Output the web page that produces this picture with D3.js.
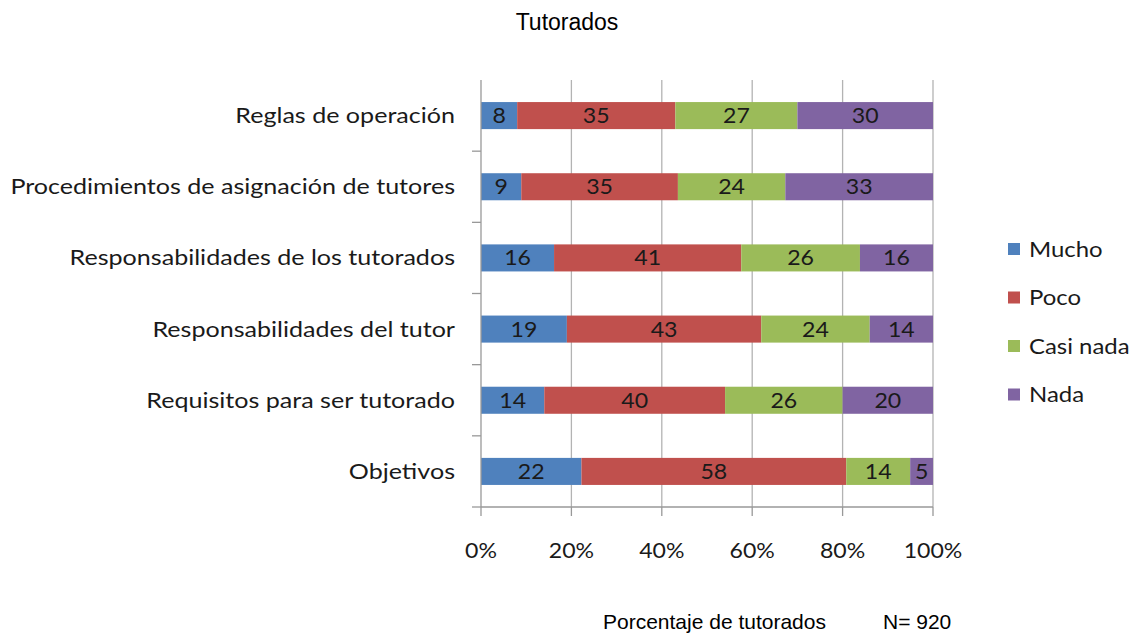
<!DOCTYPE html>
<html><head><meta charset="utf-8">
<script src="https://cdn.jsdelivr.net/npm/d3@7"></script>
<style>body{margin:0;background:#fff}</style>
</head><body>
<script>
const categories = ["Reglas de operación","Procedimientos de asignación de tutores","Responsabilidades de los tutorados","Responsabilidades del tutor","Requisitos para ser tutorado","Objetivos"];
const seriesNames = ["Mucho","Poco","Casi nada","Nada"];
const mucho = [8,9,16,19,14,22];
const poco = [35,35,41,43,40,58];
const casiNada = [27,24,26,24,26,14];
const nada = [30,33,16,14,20,5];
const colors = ["#4F81BD","#C0504D","#9BBB59","#8064A2"];
const xTicks = [0,0.2,0.4,0.6,0.8,1];

const W=1138,H=634;
const svg=d3.select("body").append("svg").attr("width",W).attr("height",H);
const font="Lato, 'Open Sans', sans-serif";
const arial="Arial, 'Liberation Sans', sans-serif";
const x=d3.scaleLinear().domain([0,1]).range([481,933]);
const y=d3.scaleBand().domain(categories).range([80,507]).paddingInner(0.62).paddingOuter(0.31);
const band=(507-80)/categories.length;
const SX=1.195, SXL=1.14, SXN=1.1;

function place(sel,fx,fy,sx){
  sel.attr("transform",(d,i)=>`translate(${fx(d,i)},${fy(d,i)}) scale(${sx},1)`);
  return sel;
}

svg.append("g").selectAll("line").data(xTicks.slice(1)).join("line")
 .attr("x1",d=>x(d)).attr("x2",d=>x(d)).attr("y1",80).attr("y2",507)
 .attr("stroke","#b3b3b3").attr("stroke-width",1.3);

const rows=categories.map((c,i)=>{
  const vals=[mucho[i],poco[i],casiNada[i],nada[i]];
  const tot=d3.sum(vals); let acc=0;
  return vals.map((v,j)=>{const s={cat:c,v,j,x0:acc/tot,x1:(acc+v)/tot};acc+=v;return s;});
}).flat();

svg.append("g").selectAll("rect").data(rows).join("rect")
 .attr("x",d=>x(d.x0)).attr("width",d=>x(d.x1)-x(d.x0))
 .attr("y",d=>y(d.cat)).attr("height",y.bandwidth())
 .attr("fill",d=>colors[d.j]);
place(svg.append("g").selectAll("text").data(rows).join("text"),
  d=>(x(d.x0)+x(d.x1))/2, d=>y(d.cat)+y.bandwidth()/2, SXN)
 .attr("dy","0.36em").attr("text-anchor","middle")
 .attr("font-family",font).attr("font-size",21).attr("fill","#1a1a1a")
 .text(d=>d.v);

const ax=svg.append("g");
ax.append("line").attr("x1",481).attr("x2",481).attr("y1",80).attr("y2",507).attr("stroke","#999").attr("stroke-width",1.3);
ax.append("line").attr("x1",481).attr("x2",933).attr("y1",507).attr("y2",507).attr("stroke","#999").attr("stroke-width",1.3);
ax.selectAll(".yt").data(d3.range(categories.length)).join("line")
 .attr("x1",472).attr("x2",481).attr("y1",i=>80+band*(i+1)).attr("y2",i=>80+band*(i+1))
 .attr("stroke","#999").attr("stroke-width",1.3);
ax.selectAll(".xt").data(xTicks).join("line")
 .attr("x1",d=>x(d)).attr("x2",d=>x(d)).attr("y1",507).attr("y2",516)
 .attr("stroke","#999").attr("stroke-width",1.3);
place(ax.selectAll(".xl").data(xTicks).join("text"), d=>x(d), ()=>558, SXN)
 .attr("text-anchor","middle")
 .attr("font-family",font).attr("font-size",21).attr("fill","#1a1a1a")
 .text(d=>d3.format(".0%")(d));
place(ax.selectAll(".yl").data(categories).join("text"), ()=>455, d=>y(d)+y.bandwidth()/2, SX)
 .attr("dy","0.36em")
 .attr("text-anchor","end").attr("font-family",font).attr("font-size",21).attr("fill","#1a1a1a")
 .text(d=>d);

const lg=svg.append("g");
lg.selectAll("rect").data(seriesNames).join("rect")
 .attr("x",1008).attr("y",(d,i)=>249+i*48.5-6).attr("width",12).attr("height",12).attr("fill",(d,i)=>colors[i]);
place(lg.selectAll("text").data(seriesNames).join("text"), ()=>1029, (d,i)=>249+i*48.5, SXL)
 .attr("dy","0.36em")
 .attr("font-family",font).attr("font-size",21).attr("fill","#1a1a1a").text(d=>d);

svg.append("text").attr("x",567).attr("y",30).attr("text-anchor","middle")
 .attr("font-family",arial).attr("font-size",23).text("Tutorados");
svg.append("text").attr("x",603).attr("y",629)
 .attr("font-family",arial).attr("font-size",21).text("Porcentaje de tutorados");
svg.append("text").attr("x",883).attr("y",629)
 .attr("font-family",arial).attr("font-size",21).text("N= 920");
</script>
</body></html>
